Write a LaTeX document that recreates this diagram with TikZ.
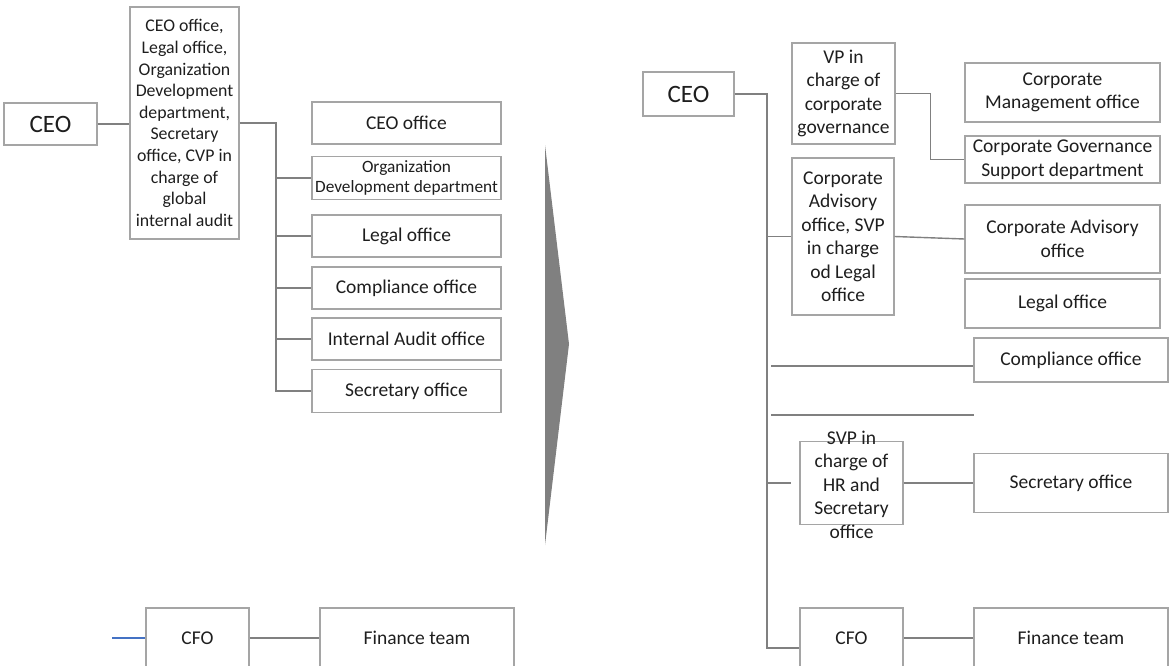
\documentclass[tikz,border=0pt]{standalone}
\usepackage{fontspec}
\setmainfont{Carlito}
\definecolor{boxc}{RGB}{165,165,165}
\definecolor{linec}{RGB}{128,128,128}
\definecolor{txt}{RGB}{30,30,30}
\definecolor{arrowc}{RGB}{128,128,128}
\definecolor{bluec}{RGB}{68,114,196}
\begin{document}
\begin{tikzpicture}[x=1pt,y=-1pt,
  box/.style={draw=boxc, line width=1.1pt, inner sep=0pt, align=center, text=txt},
  conn/.style={draw=linec, line width=1.4pt},
  fbig/.style={font=\fontsize{25}{29}\selectfont},
  fleft/.style={font=\fontsize{17.8}{21.6}\selectfont},
  fmid/.style={font=\fontsize{19.5}{23.5}\selectfont},
  fsmall/.style={font=\fontsize{17.3}{20}\selectfont}]
\useasboundingbox (0,0) rectangle (1169,666);
\clip (0,0) rectangle (1169,666);
% ---------- left ----------
\node[box,fbig,minimum width=93pt,minimum height=42pt] (ceoL) at (50.5,124) {CEO};
\node[box,fleft,minimum width=109pt,minimum height=232pt] (bigL) at (184.5,123)
  {CEO office,\\Legal office,\\Organization\\Development\\department,\\Secretary\\office, CVP in\\charge of\\global\\internal audit};
\node[box,fmid,minimum width=189pt,minimum height=42pt] (ceoOff) at (406.5,123) {CEO office};
\node[box,fsmall,minimum width=189pt,minimum height=43pt] (orgDev) at (406.5,178) {Organization\\Development department};
\node[box,fmid,minimum width=189pt,minimum height=42pt] (legalL) at (406.5,236) {Legal office};
\node[box,fmid,minimum width=189pt,minimum height=42pt] (complL) at (406.5,288) {Compliance office};
\node[box,fmid,minimum width=189pt,minimum height=42pt] (auditL) at (406.5,339) {Internal Audit office};
\node[box,fmid,minimum width=189pt,minimum height=43pt] (secL) at (406.5,391) {Secretary office};
\node[box,fmid,minimum width=103pt,minimum height=60pt] (cfoL) at (197.5,638) {CFO};
\node[box,fmid,minimum width=194pt,minimum height=60pt] (finL) at (417,638) {Finance team};
\coordinate (spineL) at (276,123);
\coordinate (blueEnd) at (112,638);

\draw[conn] (ceoL.east) -- (bigL.west |- ceoL.east);
\draw[conn] (bigL.east) -- (spineL) |- (secL.west);
\foreach \n in {orgDev,legalL,complL,auditL}
  \draw[conn] (spineL |- \n.west) -- (\n.west);
\draw[draw=bluec,line width=1.2pt] (blueEnd) -- (cfoL.west);
\draw[conn] (cfoL.east) -- (finL.west);

% ---------- arrow ----------
\fill[arrowc] (545,145) -- (569,344) -- (545,545) -- cycle;

% ---------- right ----------
\node[box,fbig,minimum width=91pt,minimum height=44pt] (ceoR) at (688.5,94) {CEO};
\node[box,fmid,minimum width=103pt,minimum height=101pt] (vp) at (843.5,93.5) {VP in\\charge of\\corporate\\governance};
\node[box,fmid,minimum width=195pt,minimum height=59pt] (corpMgmt) at (1062.5,92.5) {Corporate\\Management office};
\node[box,fmid,minimum width=195pt,minimum height=47pt] (cgs) at (1062.5,159.5) {Corporate Governance\\Support department};
\node[box,fmid,minimum width=102pt,minimum height=157pt] (advSvp) at (843,236.5) {Corporate\\Advisory\\office, SVP\\in charge\\od Legal\\office};
\node[box,fmid,minimum width=195pt,minimum height=68pt] (corpAdv) at (1062.5,239) {Corporate Advisory\\office};
\node[box,fmid,minimum width=195pt,minimum height=49pt] (legalR) at (1062.5,303.5) {Legal office};
\node[box,fmid,minimum width=194pt,minimum height=44pt] (complR) at (1071,360) {Compliance office};
\node[box,minimum width=103pt,minimum height=83pt] (svpHR) at (851.5,483) {};
\node[fmid,align=center,text=txt,inner sep=0pt] (svpHRtxt) at (851.5,484.5) {SVP in\\charge of\\HR and\\Secretary\\office};
\node[box,fmid,minimum width=194pt,minimum height=59pt] (secR) at (1071,483) {Secretary office};
\node[box,fmid,minimum width=103pt,minimum height=60pt] (cfoR) at (851.5,638) {CFO};
\node[box,fmid,minimum width=194pt,minimum height=60pt] (finR) at (1071,638) {Finance team};

\coordinate (spineTop) at (767,94);
\coordinate (spineBot) at (767,648);
\coordinate (compStart) at (771,366);
\coordinate (emptyA) at (771,415);
\coordinate (emptyB) at (974,415);
\coordinate (stubA) at (766,483);
\coordinate (stubB) at (791,483);

\draw[conn] (ceoR.east) -- (spineTop) -- (spineBot) -- (cfoR.west |- spineBot);
\draw[conn] (vp.east) -- ++(35,0) |- (cgs.west);
\draw[conn] (spineTop |- advSvp.west) -- (advSvp.west);
\draw[conn] (advSvp.east) -- (corpAdv.west);
\draw[conn] (compStart) -- ([yshift=-6pt]complR.west);
\draw[conn] (emptyA) -- (emptyB);
\draw[conn] (stubA) -- (stubB);
\draw[conn] (svpHR.east) -- (secR.west);
\draw[conn] (cfoR.east) -- (finR.west);
\end{tikzpicture}
\end{document}
